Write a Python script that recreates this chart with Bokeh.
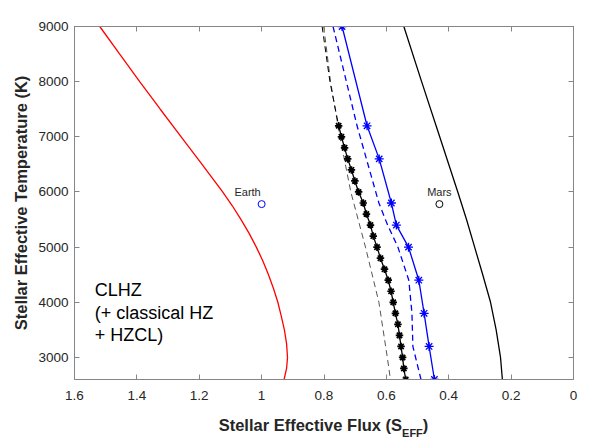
from bokeh.plotting import figure
from bokeh.models import Range1d, FixedTicker, LinearAxis, Div
from bokeh.layouts import column
from bokeh.core.properties import value
from bokeh.embed import file_html
from bokeh.resources import INLINE

# ---- data ----
# Red curve (inner edge)
red_T = [9000, 8500, 8000, 7500, 7000, 6500, 6000, 5750, 5500, 5250, 5000, 4750, 4500,
         4250, 4000, 3750, 3500, 3250, 3000, 2800, 2600]
red_S = [1.519, 1.455, 1.391, 1.325, 1.258, 1.191, 1.125, 1.094, 1.066, 1.040, 1.017, 0.996, 0.978,
         0.962, 0.948, 0.937, 0.927, 0.920, 0.917, 0.920, 0.928]

# Black solid curve (outer edge)
blk_T = [9000, 8000, 7000, 6000, 5500, 5000, 4500, 4000, 3500, 3000, 2600]
blk_S = [0.544, 0.487, 0.429, 0.371, 0.343, 0.317, 0.291, 0.266, 0.248, 0.234, 0.228]

# Gray dashed curve
gry_T = [9000, 8000, 7000, 6000, 5000, 4000, 3000, 2600]
gry_S = [0.801, 0.779, 0.749, 0.714, 0.667, 0.624, 0.597, 0.587]

# Black dashed extension above the star series
bdx_T = [9000, 8000, 7200]
bdx_S = [0.806, 0.781, 0.753]

# Black star series
st_T = [7200, 7000, 6800, 6600, 6400, 6200, 6000, 5800, 5600, 5400, 5200, 5000,
        4800, 4600, 4400, 4200, 4000, 3800, 3600, 3400, 3200, 3000, 2800, 2600]
st_S = [0.753, 0.744, 0.734, 0.724, 0.712, 0.701, 0.689, 0.674, 0.664, 0.651, 0.642, 0.630,
        0.619, 0.606, 0.594, 0.585, 0.578, 0.571, 0.563, 0.558, 0.553, 0.548, 0.544, 0.538]

# Blue star series (solid) and blue dashed companion
bl_T = [9000, 7200, 6600, 5800, 5400, 5000, 4400, 3800, 3200, 2600]
bl_S = [0.742, 0.662, 0.623, 0.584, 0.568, 0.529, 0.496, 0.479, 0.463, 0.446]
bd_S = [0.771, 0.694, 0.664, 0.624, 0.596, 0.563, 0.528, 0.518, 0.515, 0.489]

# Planets
earth_S, earth_T = [1.0], [5780]
mars_S, mars_T = [0.43], [5780]

x_ticks = [1.6, 1.4, 1.2, 1.0, 0.8, 0.6, 0.4, 0.2, 0.0]
x_tick_labels = ["1.6", "1.4", "1.2", "1", "0.8", "0.6", "0.4", "0.2", "0"]
y_ticks = [3000, 4000, 5000, 6000, 7000, 8000, 9000]

clhz_lines = ["CLHZ", "(+ classical HZ", "+ HZCL)"]

FONT = "Liberation Sans"
AXIS_COL = "#868686"
TXT_COL = "#262626"

p = figure(width=600, height=412, output_backend="svg", toolbar_location=None,
           x_range=Range1d(1.6, 0), y_range=Range1d(2600, 9000),
           min_border_left=74, min_border_right=27, min_border_top=26, min_border_bottom=33)
p.grid.visible = False
p.outline_line_color = AXIS_COL
p.background_fill_color = "white"

overrides = dict(zip(x_ticks, x_tick_labels))

for ax in p.xaxis:
    ax.ticker = FixedTicker(ticks=x_ticks)
    ax.major_label_overrides = overrides
    ax.major_label_standoff = 11
for ax in p.yaxis:
    ax.ticker = FixedTicker(ticks=y_ticks)
    ax.major_label_standoff = 6
    ax.axis_label = "Stellar Effective Temperature (K)"
    ax.axis_label_text_font = FONT
    ax.axis_label_text_font_size = "16.5px"
    ax.axis_label_text_font_style = "bold"
    ax.axis_label_text_color = TXT_COL
    ax.axis_label_standoff = 5

for ax in list(p.xaxis) + list(p.yaxis):
    ax.axis_line_color = AXIS_COL
    ax.major_tick_line_color = AXIS_COL
    ax.major_tick_in = 5
    ax.major_tick_out = 0
    ax.minor_tick_line_color = None
    ax.major_label_text_font = FONT
    ax.major_label_text_font_size = "13.5px"
    ax.major_label_text_color = TXT_COL

# tick marks on the top and right edges (box style), no labels painted
top = LinearAxis(ticker=FixedTicker(ticks=x_ticks), major_label_text_font_size="8px",
                 major_label_text_color=None, major_label_standoff=0,
                 major_tick_in=5, major_tick_out=0, minor_tick_line_color=None,
                 axis_line_color=AXIS_COL, major_tick_line_color=AXIS_COL)
p.add_layout(top, "above")
right = LinearAxis(ticker=FixedTicker(ticks=y_ticks), major_label_text_font_size="8px",
                   major_label_text_color=None, major_label_standoff=0,
                   major_tick_in=5, major_tick_out=0, minor_tick_line_color=None,
                   axis_line_color=AXIS_COL, major_tick_line_color=AXIS_COL)
p.add_layout(right, "right")

# curves
p.line(red_S, red_T, line_color="#ff0000", line_width=1.3)
p.line(blk_S, blk_T, line_color="black", line_width=1.3)
p.line(gry_S, gry_T, line_color="#555555", line_width=1.0, line_dash="6 4")
p.line(bdx_S, bdx_T, line_color="black", line_width=1.0, line_dash="6 4")
p.line(bd_S, bl_T, line_color="#0000ff", line_width=1.3, line_dash="6 4")
p.line(bl_S, bl_T, line_color="#0000ff", line_width=1.3)
p.scatter(bl_S, bl_T, marker="asterisk", size=9, line_color="#0000ff", line_width=1.3)
p.line(st_S, st_T, line_color="black", line_width=1.3)
p.scatter(st_S, st_T, marker="asterisk", size=7.5, line_color="black", line_width=1.7)

# planets
p.scatter(earth_S, earth_T, marker="circle", size=7, fill_color=None, line_color="#0000ff", line_width=1)
p.scatter(mars_S, mars_T, marker="circle", size=7, fill_color=None, line_color="black", line_width=1)
p.text(x=[1.045], y=[6000], text=["Earth"], text_align="center", text_baseline="middle",
       text_font=value(FONT), text_font_size="11px", text_color=TXT_COL)
p.text(x=[0.43], y=[6000], text=["Mars"], text_align="center", text_baseline="middle",
       text_font=value(FONT), text_font_size="11px", text_color=TXT_COL)

# annotation block
p.text(x=[1.535] * 3, y=[4220, 3809, 3399], text=clhz_lines, text_align="left",
       text_baseline="middle", text_font=value(FONT), text_font_size="18px", text_color="black")

# x-axis title with subscript (HTML text under the figure)
xlabel = Div(
    text='Stellar Effective Flux (S<span style="font-size:11px; position:relative; top:6px;">EFF</span>)',
    width=499, height=30, margin=(0, 0, 0, 74),
    styles={"text-align": "center", "font-family": FONT, "font-weight": "bold",
            "font-size": "16.5px", "color": TXT_COL, "padding-top": "4px",
            "line-height": "19px"})

layout = column(p, xlabel, spacing=0)
open("out.html", "w").write(file_html(layout, INLINE))
